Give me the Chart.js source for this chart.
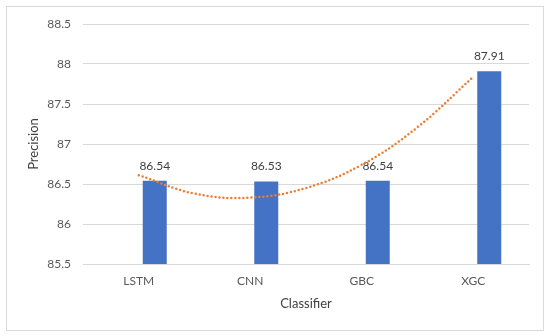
<!DOCTYPE html>
<html>
<head>
<meta charset="utf-8">
<script src="https://cdn.jsdelivr.net/npm/chart.js@4"></script>
<style>
  body { margin: 0; background: #fff; }
  .wrap { position: relative; width: 550px; height: 336px; }
  .wrap canvas { position: absolute; left: 0; top: 0; }
  #trendLayer { pointer-events: none; }
</style>
</head>
<body>
<div class="wrap">
  <canvas id="precisionChart" width="550" height="336"></canvas>
  <canvas id="trendLayer" width="550" height="336"></canvas>
</div>
<script>
// data
const classifiers = ['LSTM', 'CNN', 'GBC', 'XGC'];
const precision = [86.54, 86.53, 86.54, 87.91];
// Excel placed the bars next to an empty series slot, keep a blank one
const blankSeries = [null, null, null, null];
// polynomial (order 2) trendline (x = category index)
const trendX = [0, 0.5, 1, 1.5, 2, 2.5, 3];
const trendY = [86.61, 86.38, 86.33, 86.45, 86.74, 87.21, 87.84];
const yTicks = [85.5, 86, 86.5, 87, 87.5, 88, 88.5];

const font = 'Lato, "Open Sans", sans-serif';
const yMin = yTicks[0];
const yMax = yTicks[yTicks.length - 1];

// white background + thin grey frame like the Excel chart area
const frame = {
    id: 'frame',
    beforeDraw(chart) {
        const ctx = chart.ctx;
        ctx.save();
        ctx.fillStyle = '#ffffff';
        ctx.fillRect(0, 0, chart.width, chart.height);
        ctx.strokeStyle = '#d9d9d9';
        ctx.lineWidth = 1;
        ctx.strokeRect(6.5, 6.5, 537, 324);
        ctx.restore();
    }
};

// value labels above the bars
const barLabels = {
    id: 'barLabels',
    afterDatasetsDraw(chart) {
        const ctx = chart.ctx;
        const meta = chart.getDatasetMeta(1);
        ctx.save();
        ctx.font = '12px ' + font;
        ctx.fillStyle = '#404040';
        ctx.textAlign = 'center';
        ctx.textBaseline = 'middle';
        meta.data.forEach((bar, i) => {
            ctx.fillText(precision[i].toFixed(2), bar.x, bar.y - 15);
        });
        ctx.restore();
    }
};

const ctx = document.getElementById('precisionChart').getContext('2d');
new Chart(ctx, {
    type: 'bar',
    data: {
        labels: classifiers,
        datasets: [
            {
                label: 'blank',
                data: blankSeries,
                backgroundColor: 'rgba(0,0,0,0)',
                categoryPercentage: 0.574,
                barPercentage: 0.75
            },
            {
                label: 'Precision',
                data: precision,
                backgroundColor: '#4472c4',
                categoryPercentage: 0.574,
                barPercentage: 0.75
            }
        ]
    },
    options: {
        responsive: false,
        devicePixelRatio: 1,
        animation: false,
        layout: { padding: { top: 24, right: 21, left: 7, bottom: 6 } },
        plugins: {
            legend: { display: false },
            tooltip: { enabled: false }
        },
        scales: {
            x: {
                offset: true,
                grid: { display: false, drawTicks: false },
                border: { color: '#d9d9d9' },
                ticks: { padding: 10, color: '#595959', font: { family: font, size: 12 } },
                title: {
                    display: true,
                    text: 'Classifier',
                    color: '#404040',
                    font: { family: font, size: 13 },
                    padding: { top: 0, bottom: 18 }
                },
                afterFit(scale) { scale.height = 66; }
            },
            y: {
                min: yMin,
                max: yMax,
                afterBuildTicks(scale) {
                    scale.ticks = yTicks.map(v => ({ value: v }));
                },
                grid: { color: '#d9d9d9', drawTicks: false },
                border: { display: false },
                ticks: {
                    padding: 12,
                    color: '#595959',
                    font: { family: font, size: 12 },
                    callback: v => String(v)
                },
                title: {
                    display: true,
                    text: 'Precision',
                    color: '#404040',
                    font: { family: font, size: 13 },
                    padding: { top: 19, bottom: 0 }
                },
                afterFit(scale) { scale.width = 76; }
            }
        }
    },
    plugins: [frame, barLabels]
});

// trendline on its own transparent layer, same plot area as the bars
const trendCtx = document.getElementById('trendLayer').getContext('2d');
new Chart(trendCtx, {
    type: 'line',
    data: {
        datasets: [{
            label: 'Poly. (Precision)',
            data: trendX.map((x, i) => ({ x: x, y: trendY[i] })),
            borderColor: '#ed7d31',
            borderWidth: 2.5,
            borderDash: [0, 4],
            borderCapStyle: 'round',
            pointRadius: 0,
            tension: 0.4,
            fill: false
        }]
    },
    options: {
        responsive: false,
        devicePixelRatio: 1,
        animation: false,
        layout: { padding: { top: 24, right: 21, left: 83, bottom: 72 } },
        plugins: {
            legend: { display: false },
            tooltip: { enabled: false }
        },
        scales: {
            x: { type: 'linear', display: false, min: -0.5, max: classifiers.length - 0.5 },
            y: { display: false, min: yMin, max: yMax }
        }
    }
});
</script>
</body>
</html>
